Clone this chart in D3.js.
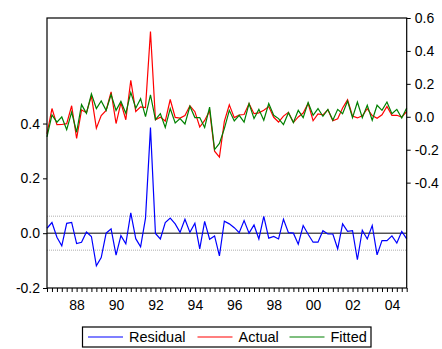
<!DOCTYPE html>
<html>
<head>
<meta charset="utf-8">
<script src="https://cdn.jsdelivr.net/npm/d3@7"></script>
<style>
    body { margin: 0; background: #fff; }
    text { font-family: "Liberation Sans", Arial, sans-serif; fill: #000; }
</style>
</head>
<body>
<div id="chart"></div>
<script>
'use strict';

// quarterly sample 1986Q3 - 2004Q4
var firstQuarter = new Date(1986, 6, 1);
var lastQuarter = new Date(2004, 9, 1);

var residual = [0.018, 0.039, -0.015, -0.046, 0.036, 0.039, -0.038, -0.033, 0.004, -0.012,
    -0.119, -0.089, 0.000, 0.016, -0.080, -0.009, -0.039, 0.074, -0.020, -0.050,
    0.055, 0.385, -0.001, -0.021, 0.039, 0.055, 0.034, 0.003, 0.051, 0.003,
    0.036, -0.057, 0.043, -0.022, -0.010, -0.083, 0.044, 0.034, 0.020, 0.002,
    0.046, 0.000, 0.030, -0.021, 0.061, -0.018, -0.012, -0.021, 0.051, 0.002,
    0.000, -0.040, 0.028, -0.004, -0.033, -0.033, 0.009, -0.003, -0.003, -0.057,
    0.034, 0.007, 0.009, -0.097, 0.011, -0.021, 0.028, -0.079, -0.027, -0.027,
    -0.010, -0.036, 0.006, -0.021];

var actual = [-0.104, 0.050, -0.048, -0.047, -0.042, 0.067, -0.132, 0.041, 0.025, 0.127,
    -0.069, 0.007, 0.039, 0.151, -0.041, 0.084, -0.018, 0.222, 0.032, 0.060,
    0.056, 0.518, -0.018, -0.002, -0.026, 0.105, -0.004, -0.008, 0.007, 0.067,
    0.031, -0.062, -0.022, 0.037, -0.209, -0.245, -0.028, 0.073, -0.005, 0.011,
    0.014, 0.080, 0.019, 0.024, 0.040, 0.062, -0.003, -0.032, 0.004, 0.027,
    -0.035, -0.001, 0.023, 0.082, -0.024, 0.017, 0.012, 0.042, -0.024, -0.012,
    0.053, 0.103, 0.004, -0.007, 0.006, 0.049, 0.007, -0.009, 0.012, 0.063,
    0.009, 0.009, -0.001, 0.032];

var fitted = [-0.122, 0.011, -0.033, -0.001, -0.078, 0.028, -0.094, 0.074, 0.021, 0.139,
    0.050, 0.096, 0.039, 0.135, 0.039, 0.093, 0.021, 0.148, 0.052, 0.110,
    0.001, 0.133, -0.017, 0.019, -0.065, 0.050, -0.038, -0.011, -0.044, 0.064,
    -0.005, -0.005, -0.065, 0.059, -0.199, -0.162, -0.072, 0.039, -0.025, 0.009,
    -0.032, 0.080, -0.011, 0.045, -0.021, 0.080, 0.009, -0.011, -0.047, 0.025,
    -0.035, 0.039, -0.005, 0.086, 0.009, 0.050, 0.003, 0.045, -0.021, 0.045,
    0.019, 0.096, -0.005, 0.090, -0.005, 0.070, -0.021, 0.070, 0.039, 0.090,
    0.019, 0.045, -0.007, 0.053];

var residTicks = [-0.2, 0.0, 0.2, 0.4];
var levelTicks = [-0.4, -0.2, 0.0, 0.2, 0.4, 0.6];
var stdErr = 0.062;

var legendNames = ['Residual', 'Actual', 'Fitted'];
var colors = ['#0000ff', '#ff0000', '#008000'];

var w = 442, h = 349;
var padL = 47, padR = 406.7, padT = 18, padB = 288;

var quarters = d3.timeMonth.every(3).range(firstQuarter, d3.timeMonth.offset(lastQuarter, 1));

var x = d3.scaleTime()
        .domain([firstQuarter, lastQuarter])
        .range([padL, padR]);
var yResid = d3.scaleLinear()
        .domain([-0.2, 0.785])
        .range([padB, padT]);
var yLevel = d3.scaleLinear()
        .domain([-1.04, 0.6])
        .range([padB, padT]);

var svg = d3.select('#chart')
        .append('svg')
        .attr('width', w)
        .attr('height', h);

var fmt = function (d) {
    return d.toFixed(1);
};

// axes
var xAxis = svg.append('g')
        .attr('transform', 'translate(0,' + padB + ')')
        .call(d3.axisBottom(x)
                .tickValues(quarters)
                .tickSize(4)
                .tickPadding(8)
                .tickFormat(function (d) {
                    if (d.getMonth() === 0 && d.getFullYear() % 2 === 0) {
                        return d3.timeFormat('%y')(d);
                    }
                    return '';
                }));

var lAxis = svg.append('g')
        .attr('transform', 'translate(' + padL + ',0)')
        .call(d3.axisLeft(yResid)
                .tickValues(residTicks)
                .tickSize(4)
                .tickPadding(3)
                .tickFormat(fmt));

var rAxis = svg.append('g')
        .attr('transform', 'translate(' + padR + ',0)')
        .call(d3.axisRight(yLevel)
                .tickValues(levelTicks)
                .tickSize(4)
                .tickPadding(4)
                .tickFormat(fmt));

[xAxis, lAxis, rAxis].forEach(function (g) {
    g.select('.domain').remove();
    g.selectAll('line').attr('stroke', '#000');
    g.selectAll('text')
            .attr('font-size', '14px')
            .attr('font-family', '"Liberation Sans", Arial, sans-serif')
            .attr('fill', '#000');
});

// std. error band and zero line
svg.selectAll('.band')
        .data([stdErr, -stdErr])
        .enter()
        .append('line')
        .attr('x1', padL)
        .attr('x2', padR)
        .attr('y1', function (d) { return yResid(d); })
        .attr('y2', function (d) { return yResid(d); })
        .attr('stroke', '#b0b0b0')
        .attr('stroke-width', 1)
        .attr('stroke-dasharray', '1,1');

svg.append('line')
        .attr('x1', padL)
        .attr('x2', padR)
        .attr('y1', yResid(0))
        .attr('y2', yResid(0))
        .attr('stroke', '#000')
        .attr('stroke-width', 1);

var residLine = d3.line()
        .x(function (d, i) { return x(quarters[i]); })
        .y(function (d) { return yResid(d); });
var levelLine = d3.line()
        .x(function (d, i) { return x(quarters[i]); })
        .y(function (d) { return yLevel(d); });

svg.append('path')
        .datum(residual)
        .attr('d', residLine)
        .attr('fill', 'none')
        .attr('stroke', colors[0])
        .attr('stroke-width', 1.2);
svg.append('path')
        .datum(actual)
        .attr('d', levelLine)
        .attr('fill', 'none')
        .attr('stroke', colors[1])
        .attr('stroke-width', 1.2);
svg.append('path')
        .datum(fitted)
        .attr('d', levelLine)
        .attr('fill', 'none')
        .attr('stroke', colors[2])
        .attr('stroke-width', 1.2);

// frame
svg.append('rect')
        .attr('x', padL)
        .attr('y', padT)
        .attr('width', padR - padL)
        .attr('height', padB - padT)
        .attr('fill', 'none')
        .attr('stroke', '#000')
        .attr('stroke-width', 1.2);

// legend
var lgX = [88, 197.5, 289.5];
var legend = svg.append('g');
legend.append('rect')
        .attr('x', 82.5)
        .attr('y', 327)
        .attr('width', 288.5)
        .attr('height', 20)
        .attr('fill', '#fff')
        .attr('stroke', '#000')
        .attr('stroke-width', 1.2);

var items = legend.selectAll('.item')
        .data(legendNames)
        .enter()
        .append('g')
        .attr('transform', function (d, i) {
            return 'translate(' + lgX[i] + ',337)';
        });
items.append('line')
        .attr('x1', 0)
        .attr('x2', 35)
        .attr('stroke', function (d, i) { return colors[i]; })
        .attr('stroke-width', 1.2);
items.append('text')
        .attr('x', 41)
        .attr('y', 0)
        .attr('dy', '0.36em')
        .attr('font-size', '14.5px')
        .text(function (d) { return d; });
</script>
</body>
</html>
